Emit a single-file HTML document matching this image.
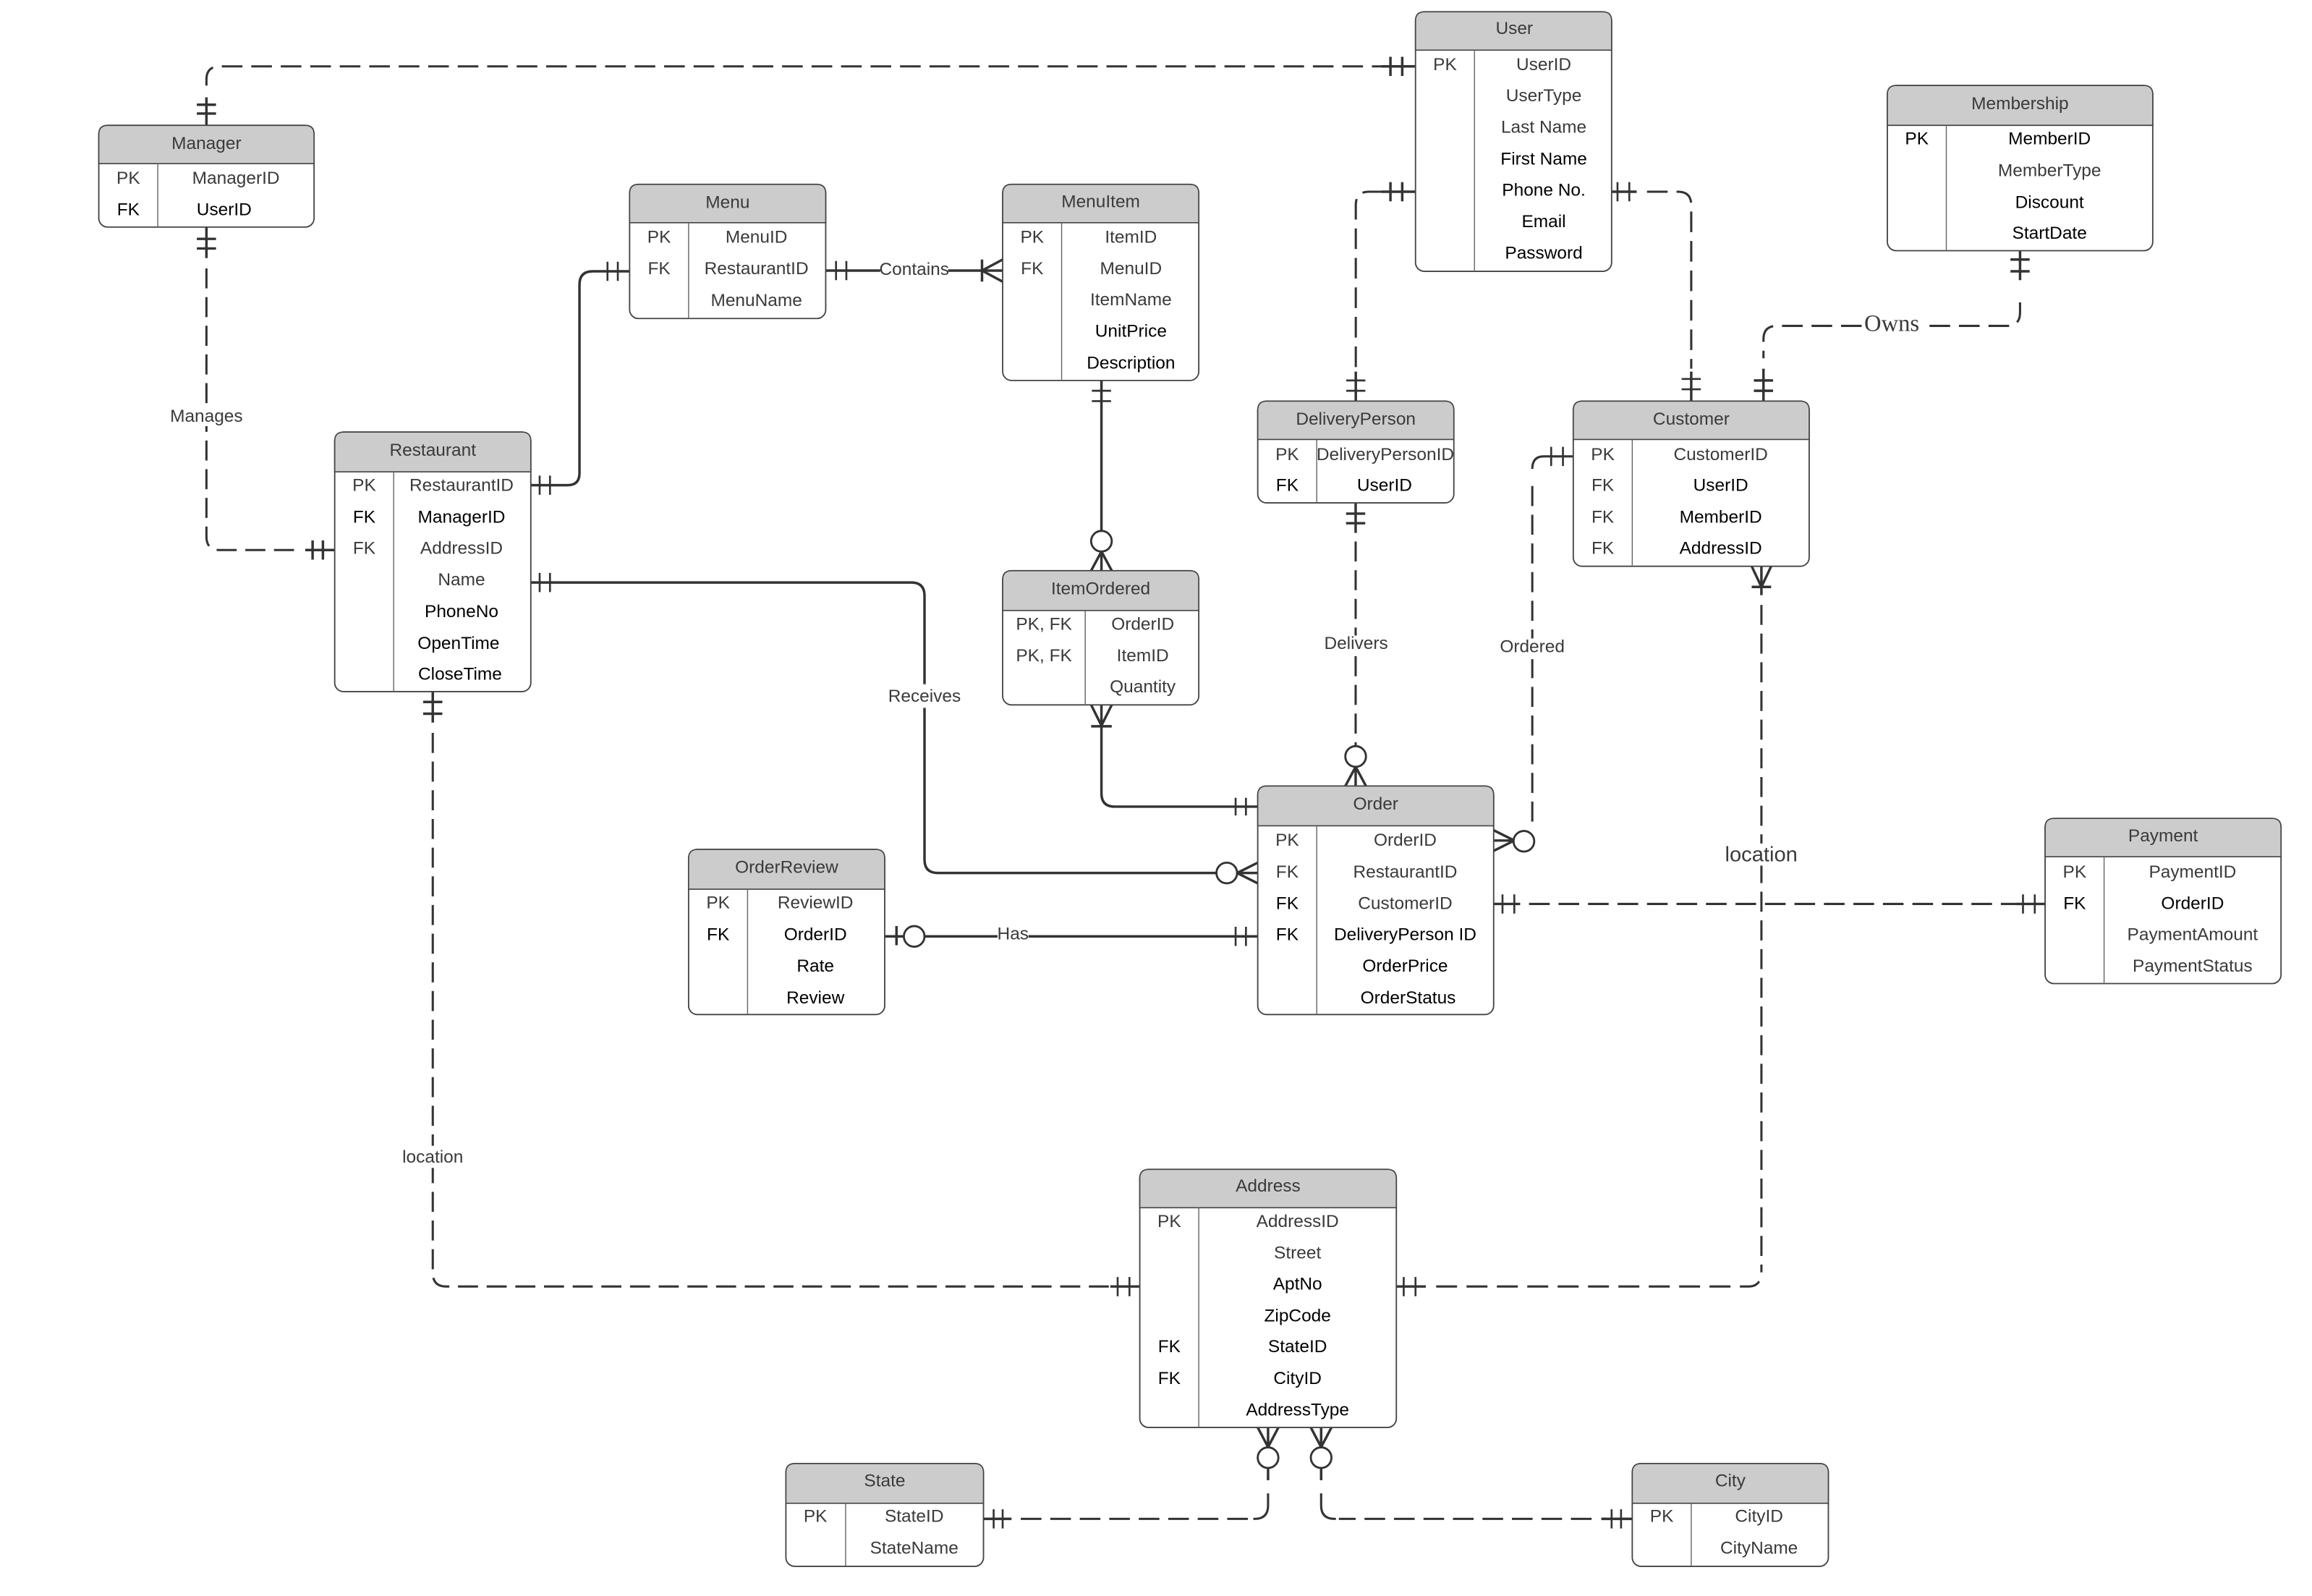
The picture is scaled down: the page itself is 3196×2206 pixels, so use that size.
<!DOCTYPE html>
<html><head><meta charset="utf-8"><title>ER Diagram</title>
<style>
html,body{margin:0;padding:0;background:#fff}
svg{display:block}
text{font-family:"Liberation Sans",sans-serif;font-size:12px;fill:#3a3a3a;text-anchor:middle}
.k{fill:#000}
.hd{fill:#ccc;stroke:#444;stroke-width:.8}
.bx{fill:#fff;stroke:#444;stroke-width:.9}
.dv{stroke:#666;stroke-width:.7;fill:none}
.s{fill:none;stroke:#333;stroke-width:1.7}
.e{fill:none;stroke:#333;stroke-width:1.5}
.d{fill:none;stroke:#333;stroke-width:1.5;stroke-dasharray:14 6}
.v{fill:none;stroke:#333;stroke-width:1.5;stroke-dasharray:13.6 5.85}
.t{fill:none;stroke:#333;stroke-width:1.3}
.c{fill:#fff;stroke:#333;stroke-width:1.4}
</style></head><body>
<svg xmlns="http://www.w3.org/2000/svg" width="3196" height="2206" viewBox="0 0 1568 1082.3">
<rect width="1568" height="1082.3" fill="#fff"/>

<!-- connectors -->
<path class="d" d="M140,58V54Q140,45 149,45H938"/>
<path class="s" d="M140,85V66M133.500,71H146.500M133.500,77H146.500M937,45H960M943,38.500V51.500M951,38.500V51.500"/>

<path class="s" d="M140,154V175M133.500,162H146.500M133.500,168.500H146.500M207,373H227M212,366.500V379.500M219,366.500V379.500"/>
<path class="v" d="M140,182V364Q140,373 149,373H205"/>

<path class="s" d="M360,329H385Q393,329 393,321V193Q393,184 402,184H427"/>
<path class="t" d="M366,322.500V335.500M373,322.500V335.500M412,177.500V190.500M419,177.500V190.500"/>

<path class="s" d="M560,183.500H680M666,176V191M680,176L666,183.500L680,191"/>
<path class="t" d="M567,177V190M574,177V190"/>

<path class="s" d="M747,258V360M740,387L747,374L754,387M747,374V387"/>
<path class="t" d="M740.500,265H753.500M740.500,272H753.500"/>
<circle class="c" cx="747" cy="367" r="7"/>

<path class="s" d="M747,478V538Q747,547 756,547H853M740,478L747,492L754,478M740,492.500H754"/>
<path class="t" d="M838,541V553M845,541V553"/>

<path class="s" d="M360,395H618Q627,395 627,404V583Q627,592 636,592H825M853,585L839,592L853,599M839,592H853"/>
<path class="t" d="M366,388.500V401.500M373,388.500V401.500"/>
<circle class="c" cx="832" cy="592" r="7"/>

<path class="s" d="M600,635H853M608,628V641"/>
<path class="t" d="M838,628.500V641.500M845,628.500V641.500"/>
<circle class="c" cx="620" cy="635" r="7"/>

<path class="d" d="M938,130H928.500Q919.500,130 919.500,139V253"/>
<path class="s" d="M937,130H960M943,123.500V136.500M951,123.500V136.500M919.500,252V272"/>
<path class="t" d="M913,258H926M913,265H926"/>

<path class="s" d="M1093,130H1110"/>
<path class="t" d="M1097,123.500V136.500M1105,123.500V136.500"/>
<path class="d" d="M1117,130H1138Q1147,130 1147,139V250"/>
<path class="s" d="M1147,252V272"/>
<path class="t" d="M1140.500,257H1153.500M1140.500,264H1153.500"/>

<path class="s" d="M1370,170V190M1363.500,176H1376.500M1363.500,184H1376.500M1196,272V250M1189.500,258H1202.500M1189.500,265H1202.500"/>
<path class="d" d="M1370,205V212Q1370,221 1361,221H1205Q1196,221 1196,230V243"/>

<path class="s" d="M919.400,341V361.400M912.900,348.300H925.900M912.900,354.800H925.900M912.400,533L919.400,520L926.400,533M919.400,520V533"/>
<path class="v" d="M919.400,367.200V506"/>
<circle class="c" cx="919.400" cy="513" r="7"/>

<path class="e" d="M1067,309.500H1047Q1039.200,309.500 1039.200,318"/>
<path class="v" d="M1039.200,329.600V563"/>
<path class="s" d="M1013,563L1027,570L1013,577M1013,570H1027"/>
<path class="t" d="M1052,303V316M1060,303V316"/>
<circle class="c" cx="1033.500" cy="570.500" r="7"/>

<path class="d" d="M1037,613H1367"/>
<path class="s" d="M1013,613H1031M1367,613H1387"/>
<path class="t" d="M1019,606.500V619.500M1027,606.500V619.500M1372,606.500V619.500M1380,606.500V619.500"/>

<path class="s" d="M1188,384L1194.600,398L1201.200,384M1194.600,384V403.600M1188,398H1201.200"/>
<path class="v" d="M1194.600,410.200V862"/>
<path class="s" style="stroke-width:1.5;stroke-dasharray:14.2 6.400" d="M974,872.400H1186Q1194.600,872.400 1194.600,862"/>
<path class="s" d="M947,872.400H967"/>
<path class="t" d="M952,866V879M960,866V879"/>

<path class="s" d="M293.500,469V490M287,476H300M287,484H300M753,872.400H773"/>
<path class="t" d="M758,866V879M766,866V879"/>
<path class="v" d="M293.500,497V863Q293.500,872.400 302.500,872.400H752"/>

<path class="s" d="M853,968L860,981.300L867,968M860,968V981M860,995V1003.800M667,1030H686"/>
<path class="t" d="M673.900,1023.500V1036.500M680,1023.500V1036.500"/>
<circle class="c" cx="860" cy="988.500" r="7"/>
<path class="d" d="M692.300,1030H848"/>
<path class="e" d="M850,1030H851Q860,1030 860,1021V1012.700"/>

<path class="s" d="M889,968L896,981.300L903,968M896,968V981M896,995V1003.800M1086,1030H1107"/>
<path class="t" d="M1093,1023.500V1036.500M1099.400,1023.500V1036.500"/>
<circle class="c" cx="896" cy="988.500" r="7"/>
<path class="d" d="M1079.400,1030H908"/>
<path class="e" d="M906,1030H905Q896,1030 896,1021V1012.700"/>

<!-- labels -->
<rect x="114" y="274" width="52" height="15" fill="#fff"/><text x="140" y="286">Manages</text>
<rect x="597" y="175" width="46" height="16" fill="#fff"/><text x="620" y="186.500">Contains</text>
<rect x="601" y="464" width="52" height="16" fill="#fff"/><text x="627" y="476">Receives</text>
<rect x="676.500" y="626" width="21" height="16" fill="#fff"/><text x="687" y="637">Has</text>
<rect x="897" y="431" width="45" height="14" fill="#fff"/><text x="919.700" y="440">Delivers</text>
<rect x="1016" y="433" width="46" height="14" fill="#fff"/><text x="1039.200" y="442.400">Ordered</text>
<rect x="272" y="777" width="43" height="15" fill="#fff"/><text x="293.500" y="788.500">location</text>
<rect x="1263" y="213" width="40" height="16" fill="#fff"/><text x="1283" y="224.500" style="font-family:'Liberation Serif',serif;font-size:16px">Owns</text>
<rect x="1170" y="572" width="50" height="15" fill="#fff"/><text x="1194.500" y="584" style="font-size:14.300px">location</text>

<!-- Manager -->
<rect class="bx" x="67" y="85" width="146" height="69" rx="6"/>
<path class="hd" d="M67,111V91Q67,85 73,85H207Q213,85 213,91V111Z"/>
<path class="dv" d="M107,111V154"/>
<text x="140" y="101">Manager</text>
<text x="87" y="124.500">PK</text><text x="160" y="124.500">ManagerID</text>
<text class="k" x="87" y="146">FK</text><text class="k" x="152" y="146">UserID</text>

<!-- User -->
<rect class="bx" x="960" y="8" width="133" height="176" rx="6"/>
<path class="hd" d="M960,34V14Q960,8 966,8H1087Q1093,8 1093,14V34Z"/>
<path class="dv" d="M1000,34V184"/>
<text x="1027" y="23">User</text>
<text x="980" y="47.500">PK</text><text x="1047" y="47.500">UserID</text>
<text x="1047" y="68.700">UserType</text>
<text x="1047" y="90">Last Name</text>
<text class="k" x="1047" y="111.500">First Name</text>
<text class="k" x="1047" y="132.700">Phone No.</text>
<text class="k" x="1047" y="154">Email</text>
<text class="k" x="1047" y="175.500">Password</text>

<!-- Membership -->
<rect class="bx" x="1280" y="58" width="180" height="112" rx="6"/>
<path class="hd" d="M1280,85V64Q1280,58 1286,58H1454Q1460,58 1460,64V85Z"/>
<path class="dv" d="M1320,85V170"/>
<text x="1370" y="74">Membership</text>
<text class="k" x="1300" y="98">PK</text><text class="k" x="1390" y="98">MemberID</text>
<text x="1390" y="119.500">MemberType</text>
<text class="k" x="1390" y="141">Discount</text>
<text class="k" x="1390" y="162">StartDate</text>

<!-- Menu -->
<rect class="bx" x="427" y="125" width="133" height="91" rx="6"/>
<path class="hd" d="M427,151V131Q427,125 433,125H554Q560,125 560,131V151Z"/>
<path class="dv" d="M467,151V216"/>
<text x="493.500" y="141">Menu</text>
<text x="447" y="164.500">PK</text><text x="513" y="164.500">MenuID</text>
<text x="447" y="186">FK</text><text x="513" y="186">RestaurantID</text>
<text x="513" y="207.500">MenuName</text>

<!-- MenuItem -->
<rect class="bx" x="680" y="125" width="133" height="133" rx="6"/>
<path class="hd" d="M680,151V131Q680,125 686,125H807Q813,125 813,131V151Z"/>
<path class="dv" d="M720,151V258"/>
<text x="746.500" y="140.500">MenuItem</text>
<text x="700" y="164.500">PK</text><text x="767" y="164.500">ItemID</text>
<text x="700" y="186">FK</text><text x="767" y="186">MenuID</text>
<text x="767" y="207">ItemName</text>
<text class="k" x="767" y="228.500">UnitPrice</text>
<text class="k" x="767" y="250">Description</text>

<!-- Restaurant -->
<rect class="bx" x="227" y="293" width="133" height="176" rx="6"/>
<path class="hd" d="M227,320V299Q227,293 233,293H354Q360,293 360,299V320Z"/>
<path class="dv" d="M267,320V469"/>
<text x="293.500" y="309">Restaurant</text>
<text x="247" y="333">PK</text><text x="313" y="333">RestaurantID</text>
<text class="k" x="247" y="354.500">FK</text><text class="k" x="313" y="354.500">ManagerID</text>
<text x="247" y="375.500">FK</text><text x="313" y="375.500">AddressID</text>
<text x="313" y="397">Name</text>
<text class="k" x="313" y="418.500">PhoneNo</text>
<text class="k" x="311" y="440">OpenTime</text>
<text class="k" x="312" y="461">CloseTime</text>

<!-- DeliveryPerson -->
<rect class="bx" x="853" y="272" width="133" height="69" rx="6"/>
<path class="hd" d="M853,298V278Q853,272 859,272H980Q986,272 986,278V298Z"/>
<path class="dv" d="M893,298V341"/>
<text x="919.500" y="288">DeliveryPerson</text>
<text x="873" y="312">PK</text><text x="939.500" y="312">DeliveryPersonID</text>
<text class="k" x="873" y="333">FK</text><text class="k" x="939" y="333">UserID</text>

<!-- Customer -->
<rect class="bx" x="1067" y="272" width="160" height="112" rx="6"/>
<path class="hd" d="M1067,298V278Q1067,272 1073,272H1221Q1227,272 1227,278V298Z"/>
<path class="dv" d="M1107,298V384"/>
<text x="1147" y="288">Customer</text>
<text x="1087" y="312">PK</text><text x="1167" y="312">CustomerID</text>
<text x="1087" y="333">FK</text><text x="1167" y="333" class="k">UserID</text>
<text x="1087" y="354.500">FK</text><text x="1167" y="354.500" class="k">MemberID</text>
<text x="1087" y="375.500">FK</text><text x="1167" y="375.500" class="k">AddressID</text>

<!-- ItemOrdered -->
<rect class="bx" x="680" y="387" width="133" height="91" rx="6"/>
<path class="hd" d="M680,414V393Q680,387 686,387H807Q813,387 813,393V414Z"/>
<path class="dv" d="M736,414V478"/>
<text x="746.500" y="403">ItemOrdered</text>
<text x="708" y="427">PK, FK</text><text x="775" y="427">OrderID</text>
<text x="708" y="448.500">PK, FK</text><text x="775" y="448.500">ItemID</text>
<text x="775" y="469.500">Quantity</text>

<!-- Order -->
<rect class="bx" x="853" y="533" width="160" height="155" rx="6"/>
<path class="hd" d="M853,560V539Q853,533 859,533H1007Q1013,533 1013,539V560Z"/>
<path class="dv" d="M893,560V688"/>
<text x="933" y="549">Order</text>
<text x="873" y="573.500">PK</text><text x="953" y="573.500">OrderID</text>
<text x="873" y="595">FK</text><text x="953" y="595">RestaurantID</text>
<text class="k" x="873" y="616.500">FK</text><text x="953" y="616.500">CustomerID</text>
<text class="k" x="873" y="637.500">FK</text><text class="k" x="953" y="637.500">DeliveryPerson ID</text>
<text class="k" x="953" y="659">OrderPrice</text>
<text class="k" x="955" y="680.500">OrderStatus</text>

<!-- OrderReview -->
<rect class="bx" x="467" y="576" width="133" height="112" rx="6"/>
<path class="hd" d="M467,603V582Q467,576 473,576H594Q600,576 600,582V603Z"/>
<path class="dv" d="M507,603V688"/>
<text x="533.500" y="592">OrderReview</text>
<text x="487" y="616">PK</text><text x="553" y="616">ReviewID</text>
<text class="k" x="487" y="637.500">FK</text><text class="k" x="553" y="637.500">OrderID</text>
<text class="k" x="553" y="659">Rate</text>
<text class="k" x="553" y="680.500">Review</text>

<!-- Payment -->
<rect class="bx" x="1387" y="555" width="160" height="112" rx="6"/>
<path class="hd" d="M1387,581V561Q1387,555 1393,555H1541Q1547,555 1547,561V581Z"/>
<path class="dv" d="M1427,581V667"/>
<text x="1467" y="570.500">Payment</text>
<text x="1407" y="595">PK</text><text x="1487" y="595">PaymentID</text>
<text class="k" x="1407" y="616.500">FK</text><text class="k" x="1487" y="616.500">OrderID</text>
<text x="1487" y="637.500">PaymentAmount</text>
<text x="1487" y="659">PaymentStatus</text>

<!-- Address -->
<rect class="bx" x="773" y="793" width="174" height="175" rx="6"/>
<path class="hd" d="M773,819V799Q773,793 779,793H941Q947,793 947,799V819Z"/>
<path class="dv" d="M813,819V968"/>
<text x="860" y="808">Address</text>
<text x="793" y="832">PK</text><text x="880" y="832">AddressID</text>
<text x="880" y="853.500">Street</text>
<text class="k" x="880" y="874.500">AptNo</text>
<text class="k" x="880" y="896">ZipCode</text>
<text class="k" x="793" y="917">FK</text><text class="k" x="880" y="917">StateID</text>
<text class="k" x="793" y="938.500">FK</text><text class="k" x="880" y="938.500">CityID</text>
<text class="k" x="880" y="960">AddressType</text>

<!-- State -->
<rect class="bx" x="533" y="992.500" width="134" height="69.700" rx="6"/>
<path class="hd" d="M533,1019.400V998.500Q533,992.500 539,992.500H661Q667,992.500 667,998.500V1019.400Z"/>
<path class="dv" d="M573.500,1019.400V1062"/>
<text x="600" y="1008">State</text>
<text x="553" y="1032">PK</text><text x="620" y="1032">StateID</text>
<text x="620" y="1053.500">StateName</text>

<!-- City -->
<rect class="bx" x="1107" y="992.500" width="133" height="69.700" rx="6"/>
<path class="hd" d="M1107,1019.400V998.500Q1107,992.500 1113,992.500H1234Q1240,992.500 1240,998.500V1019.400Z"/>
<path class="dv" d="M1147,1019.400V1062"/>
<text x="1173.500" y="1008">City</text>
<text x="1127" y="1032">PK</text><text x="1193" y="1032">CityID</text>
<text x="1193" y="1053.500">CityName</text>
</svg>
</body></html>
